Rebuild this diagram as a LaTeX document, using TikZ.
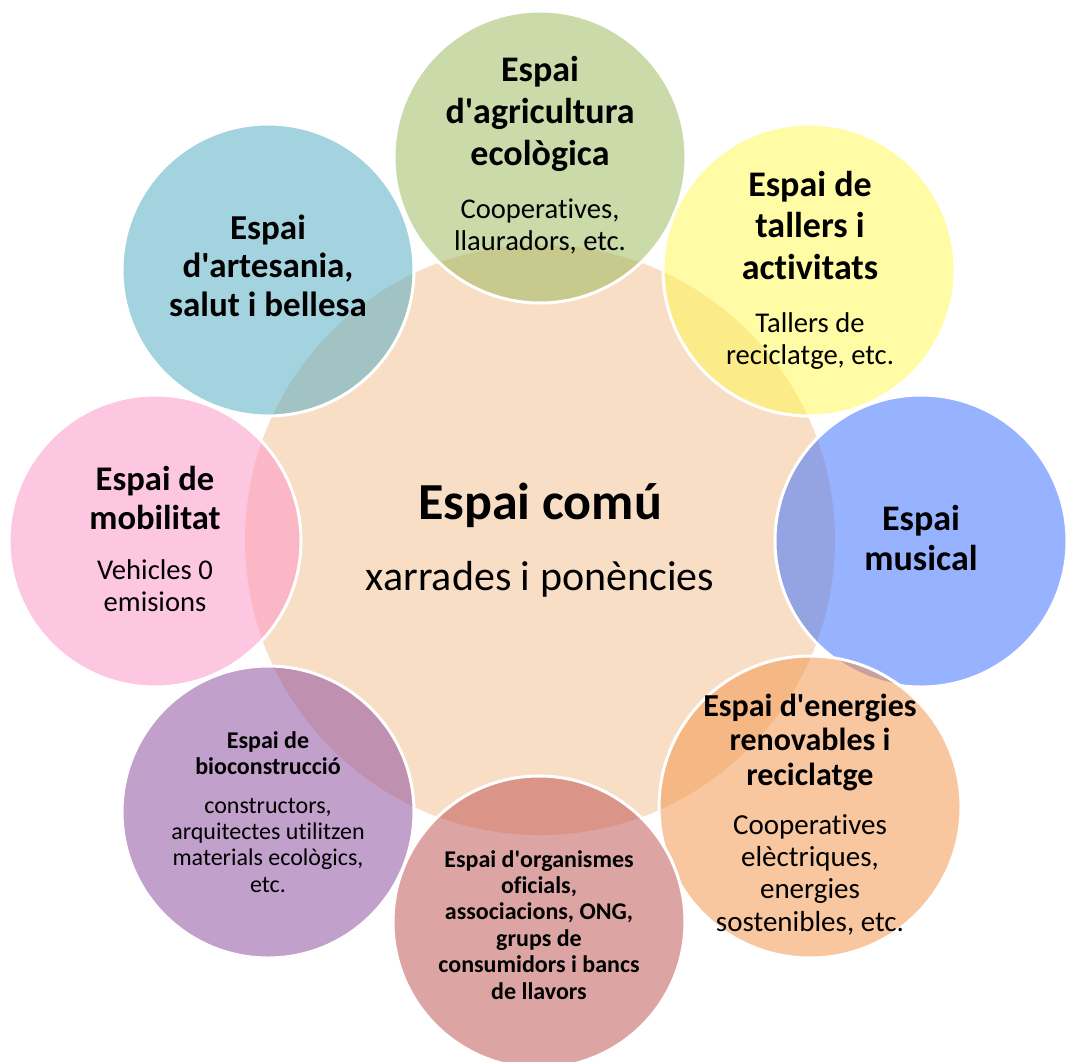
\documentclass[tikz,border=0pt]{standalone}
\usepackage{fontspec}
\setmainfont{Carlito}[Ligatures={NoCommon}]
\definecolor{peach}{HTML}{F9DEC6}
\definecolor{cgreen}{RGB}{153,183,85}
\definecolor{cyellow}{RGB}{255,250,77}
\definecolor{cbluetl}{RGB}{75,169,195}
\definecolor{cmusic}{RGB}{49,105,255}
\definecolor{corange}{RGB}{243,145,65}
\definecolor{cred}{RGB}{189,75,75}
\definecolor{cpurple}{RGB}{135,67,155}
\definecolor{cpink}{RGB}{253,145,197}
\newcommand\ap{\textquotesingle}
\begin{document}
\begin{tikzpicture}[x=1pt,y=-1pt,
  sat/.style={circle, minimum size=292pt, inner sep=0pt, draw=white, line width=3pt, fill opacity=0.5, draw opacity=1},
  txt/.style={align=center, anchor=base, inner sep=0pt, text=black}]
\useasboundingbox (0,0) rectangle (1066,1061);
\fill[white] (0,0) rectangle (1066,1061);
\node[circle, minimum size=590pt, inner sep=0pt, fill=peach] (hub) at (540,540) {};
\node[sat, fill=cgreen]  (agri)  at (540,157) {};
\node[sat, fill=cyellow] (tall)  at (809,270) {};
\node[sat, fill=cmusic]  (music) at (921,541) {};
\node[sat, fill=corange, minimum size=302pt] (ener)  at (810,807) {};
\node[sat, fill=cred]    (orga)  at (539,922) {};
\node[sat, fill=cpurple] (bio)   at (268,812) {};
\node[sat, fill=cpink]   (mobi)  at (155,541) {};
\node[sat, fill=cbluetl] (arte)  at (268,270) {};
% centre
\node[txt, font={\bfseries\fontsize{52}{60}\selectfont}] (hubt) at (540,519) {Espai comú};
\node[txt, font={\fontsize{42}{48}\selectfont}] (hubd) at (540,590) {xarrades i ponències};
% agricultura
\node[txt, font={\bfseries\fontsize{36}{42}\selectfont}] (agrit) at (540,165) {Espai\\d\ap agricultura\\ecològica};
\node[txt, font={\fontsize{28.6}{32}\selectfont}] (agrid) at (540,250) {Cooperatives,\\llauradors, etc.};
% tallers
\node[txt, font={\bfseries\fontsize{36}{41.5}\selectfont}] (tallt) at (810,279) {Espai de\\tallers i\\activitats};
\node[txt, font={\fontsize{28.6}{32}\selectfont}] (talld) at (810,364) {Tallers de\\reciclatge, etc.};
% musical
\node[txt, font={\bfseries\fontsize{36}{40}\selectfont}] (musict) at (921,570) {Espai\\musical};
% energies
\node[txt, font={\bfseries\fontsize{32}{34.5}\selectfont}] (enert) at (810,785) {Espai d\ap energies\\renovables i\\reciclatge};
\node[txt, font={\fontsize{29}{32.3}\selectfont}] (enerd) at (810,931) {Cooperatives\\elèctriques,\\energies\\sostenibles, etc.};
% organismes
\node[txt, font={\bfseries\fontsize{24}{26.4}\selectfont}] (orgat) at (539,999) {Espai d\ap organismes\\oficials,\\associacions, ONG,\\grups de\\consumidors i bancs\\de llavors};
% bioconstruccio
\node[txt, font={\bfseries\fontsize{24}{26}\selectfont}] (biot) at (268,774) {Espai de\\bioconstrucció};
\node[txt, font={\fontsize{24}{26.3}\selectfont}] (biod) at (268,892) {constructors,\\arquitectes utilitzen\\materials ecològics,\\etc.};
% mobilitat
\node[txt, font={\bfseries\fontsize{34.6}{39}\selectfont}] (mobit) at (155,529) {Espai de\\mobilitat};
\node[txt, font={\fontsize{28.6}{32}\selectfont}] (mobid) at (155,611) {Vehicles 0\\emisions};
% artesania
\node[txt, font={\bfseries\fontsize{35}{38.5}\selectfont}] (artet) at (268,316) {Espai\\d\ap artesania,\\salut i bellesa};
\end{tikzpicture}
\end{document}
